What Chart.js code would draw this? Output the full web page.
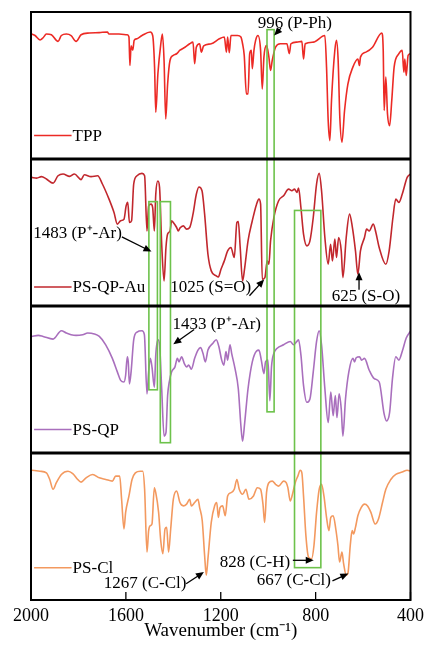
<!DOCTYPE html>
<html>
<head>
<meta charset="utf-8">
<script src="https://cdn.jsdelivr.net/npm/chart.js@4.4.0/dist/chart.umd.min.js"></script>
<style>
html, body { margin: 0; padding: 0; background: #fff; }
</style>
</head>
<body>
<canvas id="ftir" width="431" height="646"></canvas>
<script>
// spectra, values in % of their own panel height
var tppX = [1997,1983,1962,1949,1935,1914,1886,1872,1851,1831,1810,1789,1754,1712,1678,1671,1629,1594,1587,1583,1578,1571,1565,1553,1532,1497,1487,1479,1474,1465,1453,1446,1439,1432,1424,1414,1400,1386,1372,1351,1331,1317,1310,1303,1289,1282,1272,1240,1206,1185,1176,1171,1164,1157,1129,1115,1108,1101,1092,1085,1078,1071,1067,1060,1053,1043,1032,1025,1018,1007,997,990,983,969,949,921,911,904,879,858,851,844,810,761,754,747,740,733,719,712,705,698,689,678,664,643,622,615,611,588,560,521,515,511,504,497,488,479,469,449,435,428,424,418,410,400];
var tppY = [85,84,81,82.5,85,84.5,80,84,85,84,80,84.5,85.7,86,86.4,85,85,84.5,83,63.6,77,74,80.7,81.8,84,86.4,84,62.5,31.8,58,78,85,67,27.3,51,67,70.5,71.6,74,76,78.4,79.5,64.8,76,78.4,72.7,77,78.4,81.8,83,72.7,83,72.3,84,84,83,78.4,70.5,44.3,44.3,71.6,73.9,61.4,73.9,80.7,84,73.9,47.7,69.3,77.3,69.3,60.2,67,76,78.4,78.4,71.6,78.4,79.5,80,68,78.4,79.5,84,62.5,26,12.5,40,74,80.7,67,28.4,11.4,33,51,62.5,68,63.6,69.3,72.7,76,85.7,73.9,33,55.7,30.7,22.7,39.8,62.5,71.6,73.9,59,68,56.8,70.5,71.6];

var auX = [1997,1976,1956,1935,1907,1886,1865,1837,1817,1789,1775,1747,1719,1699,1671,1650,1636,1622,1608,1599,1592,1585,1576,1567,1553,1532,1521,1511,1504,1494,1487,1480,1474,1465,1458,1449,1439,1431,1424,1414,1407,1400,1386,1379,1372,1358,1344,1331,1317,1303,1292,1279,1268,1254,1240,1219,1210,1199,1185,1171,1157,1143,1132,1126,1118,1108,1099,1085,1067,1049,1039,1032,1025,1014,1004,997,990,976,956,935,914,900,889,879,872,862,851,837,824,810,796,785,775,761,747,737,729,719,712,703,692,685,671,657,646,632,622,611,594,585,574,557,546,532,504,490,474,462,449,435,414,400];
var auY = [87.5,87,88,86.4,83.6,88.6,89.8,88.2,89.8,86,89.3,88,88.6,83,72.7,63.6,55.7,58,59,68,70.5,56.8,58,83,88.6,90.2,88.6,51,68,69.3,67,51,76,85,80.7,42,17,39.8,48.9,51,58,56.8,53.4,51,53,54.5,52.3,53.4,62.5,76,81,78.4,62.5,35.2,23.9,20.5,19.8,25,30.7,37.5,39.8,33,56.8,57.5,39.8,17,26,44.3,58,69.3,72.7,69.3,18.2,19.3,30.7,28.4,44.3,60.2,71.6,75,79.5,78.4,79.5,77.3,80.2,67,48.9,40.9,44.3,60.2,83,90.2,78.4,46.6,28.4,42,30.7,45.5,33,46.6,37.5,19.3,46.6,62.5,54.5,37.5,21.6,37.5,46.6,52.3,51,55.7,50,39.8,28.4,37.5,60.2,72.7,70.5,76,87.5,89.8];

var qpX = [1997,1969,1949,1907,1872,1851,1831,1810,1782,1761,1733,1712,1685,1657,1636,1622,1608,1601,1594,1590,1585,1578,1567,1553,1532,1522,1511,1504,1497,1490,1480,1474,1465,1458,1449,1439,1431,1424,1417,1407,1393,1383,1376,1365,1354,1344,1335,1324,1310,1296,1285,1275,1265,1254,1233,1219,1208,1196,1187,1178,1171,1161,1154,1140,1126,1115,1108,1099,1085,1067,1049,1039,1029,1018,1011,1001,993,986,976,962,935,907,893,879,872,862,851,837,824,810,796,785,775,761,747,736,726,717,710,701,692,685,674,660,643,636,629,615,606,594,574,553,532,511,501,488,476,462,449,435,418,400];
var qpY = [79.3,80,79.3,77.5,83.2,81.6,80.5,80,80.5,81.6,81,79.3,73.6,64.4,55.2,49.4,48.3,52.9,65.5,62,47,55.2,77,82.3,83.2,80.5,40.2,55.2,64.4,58.6,44.8,66.7,77,73.6,43.7,11.5,13.8,39,48.3,55.2,58.6,64.4,62,65.5,61,58.6,59.8,57,64.4,70,71.7,67.8,62,70,74.7,77,72.4,63.2,59.8,69,63.2,73.6,67.8,57.5,43.7,18.4,8,20.7,43.7,62,69.4,70,63.2,54,62,63.2,35.6,58.6,67.8,71.3,73.6,75.9,73.6,75.9,77,66.7,46,34.5,36.8,55.2,75.9,83.2,73.6,43.7,20.7,41.4,25.3,39,24.1,40.2,29.9,11.5,36.8,55.2,64.4,62,64.8,65.5,63.2,64.4,56.3,50.6,48.3,26.4,21.8,27.6,50.6,65.5,63.2,69,78.2,82.8];

var clX = [1997,1962,1935,1921,1907,1893,1872,1844,1824,1803,1789,1768,1740,1712,1685,1657,1643,1626,1618,1608,1601,1587,1574,1560,1539,1529,1521,1511,1504,1497,1490,1480,1474,1462,1453,1444,1435,1428,1420,1411,1400,1386,1372,1358,1344,1331,1324,1310,1296,1289,1278,1268,1261,1254,1240,1226,1217,1210,1203,1192,1181,1171,1157,1143,1132,1122,1108,1094,1081,1062,1046,1032,1022,1015,1007,997,983,969,956,935,924,917,907,896,886,875,865,858,851,841,830,817,807,796,785,775,765,754,744,736,726,715,706,699,689,682,671,664,654,646,640,632,622,608,594,581,567,549,535,518,504,483,462,435,414,400];
var clY = [88.3,87.6,86.5,82,75.3,79.8,85.4,87.6,86,82,80.2,83.1,85.4,83.1,82,80.9,84.3,84.3,68.5,48.3,59.6,70.8,82,86.5,87.6,87.6,75.3,32.6,47.2,50.6,51.7,76.4,73,59.6,40.4,31.5,48.3,49.4,32.6,48.3,68.5,74.2,66.3,64,65.2,68.5,64,66.3,68.5,62.9,53.9,30.3,16.9,28.1,52.8,64,66.3,56.2,62.9,64,57.3,70.8,73,75.3,82,75.3,71.9,75.3,68.5,70.8,76.4,75.3,65.2,52.8,73,79.8,80.9,78.7,77.5,80.9,79.8,76.4,67.4,73,79.8,84.3,88.3,86.5,70.8,43.8,29.2,28.1,37.1,59.6,75.3,78.7,70.8,56.2,47.2,56.2,57.3,48.3,37.1,25.8,32.6,24.7,16.9,18,37.1,47.2,44.9,49.4,57.3,62.9,65.2,64,59.6,51.7,55.1,66.3,75.3,82,85.4,87,88.3,87.6];

var sampleNames = ['TPP', 'PS-QP-Au', 'PS-QP', 'PS-Cl'];
var sampleColors = ['#ec2a25', '#c1272d', '#a96fbd', '#f3995f'];
var xTicks = [2000, 1600, 1200, 800, 400];

function stackUp(xs, ys, offset) {
    return xs.map(function(x, i) { return { x: x, y: ys[i] + offset }; });
}

var spectra = [
    stackUp(tppX, tppY, 300),
    stackUp(auX, auY, 200),
    stackUp(qpX, qpY, 100),
    stackUp(clX, clY, 0)
];

// green marker boxes: [wn left, wn right, y top, y bottom]
var boxes = [
    [1005, 975, 388, 128],
    [1503, 1467, 271, 143],
    [1455, 1412, 271, 107],
    [889, 778, 265, 22]
];

// labels with arrows: text, text x, text y, arrow from (x,y) to (x,y)
var notes = [
    ['996 (P-Ph)', 888, 393, 946, 389, 975, 384],
    ['1483 (P\u207A-Ar)', 1804, 250, 1617, 247, 1492, 237],
    ['1025 (S=O)', 1242, 213, 1079, 207, 1017, 218],
    ['625 (S-O)', 588, 207, 617, 211, 617, 223],
    ['1433 (P\u207A-Ar)', 1217, 188, 1312, 184, 1400, 174],
    ['828 (C-H)', 1056, 26, 896, 27, 808, 27],
    ['1267 (C-Cl)', 1519, 12, 1346, 11, 1271, 19],
    ['667 (C-Cl)', 892, 14, 729, 13, 662, 18]
];

// legend rows inside each panel
var legendY = [316, 213, 116, 22];

var serif = '"Liberation Serif", "Times New Roman", serif';

function arrow(ctx, x1, y1, x2, y2) {
    var ang = Math.atan2(y2 - y1, x2 - x1);
    var len = 8, half = 3.5;
    ctx.beginPath();
    ctx.moveTo(x1, y1);
    ctx.lineTo(x2 - Math.cos(ang) * len * 0.6, y2 - Math.sin(ang) * len * 0.6);
    ctx.strokeStyle = '#000';
    ctx.lineWidth = 1.3;
    ctx.stroke();
    ctx.beginPath();
    ctx.moveTo(x2, y2);
    ctx.lineTo(x2 - Math.cos(ang) * len + Math.sin(ang) * half, y2 - Math.sin(ang) * len - Math.cos(ang) * half);
    ctx.lineTo(x2 - Math.cos(ang) * len - Math.sin(ang) * half, y2 - Math.sin(ang) * len + Math.cos(ang) * half);
    ctx.closePath();
    ctx.fillStyle = '#000';
    ctx.fill();
}

var decor = {
    id: 'decor',
    afterDatasetsDraw: function(chart) {
        var ctx = chart.ctx;
        var xs = chart.scales.x, ys = chart.scales.y, area = chart.chartArea;
        ctx.save();

        // green boxes
        ctx.strokeStyle = '#6dc24b';
        ctx.lineWidth = 1.6;
        boxes.forEach(function(b) {
            var l = xs.getPixelForValue(b[0]), r = xs.getPixelForValue(b[1]);
            var t = ys.getPixelForValue(b[2]), btm = ys.getPixelForValue(b[3]);
            ctx.strokeRect(l, t, r - l, btm - t);
        });

        // panel separators
        ctx.strokeStyle = '#000';
        ctx.lineWidth = 3;
        [100, 200, 300].forEach(function(v) {
            var y = ys.getPixelForValue(v);
            ctx.beginPath();
            ctx.moveTo(area.left, y);
            ctx.lineTo(area.right, y);
            ctx.stroke();
        });

        // frame
        ctx.lineWidth = 2;
        ctx.strokeRect(area.left, area.top, area.right - area.left, area.bottom - area.top);

        // inward ticks on the bottom axis
        ctx.lineWidth = 1.3;
        xTicks.forEach(function(v) {
            var x = xs.getPixelForValue(v);
            ctx.beginPath();
            ctx.moveTo(x, area.bottom);
            ctx.lineTo(x, area.bottom - 8);
            ctx.stroke();
        });

        // legends
        ctx.font = '17px ' + serif;
        ctx.textBaseline = 'middle';
        ctx.textAlign = 'left';
        sampleNames.forEach(function(name, i) {
            var y = ys.getPixelForValue(legendY[i]);
            var x0 = xs.getPixelForValue(1987), x1 = xs.getPixelForValue(1829);
            ctx.beginPath();
            ctx.moveTo(x0, y);
            ctx.lineTo(x1, y);
            ctx.strokeStyle = sampleColors[i];
            ctx.lineWidth = 1.5;
            ctx.stroke();
            ctx.fillStyle = '#000';
            ctx.fillText(name, x1 + 1, y + 1);
        });

        // annotations
        ctx.textAlign = 'center';
        notes.forEach(function(n) {
            ctx.fillStyle = '#000';
            ctx.fillText(n[0], xs.getPixelForValue(n[1]), ys.getPixelForValue(n[2]) + 1);
            arrow(ctx, xs.getPixelForValue(n[3]), ys.getPixelForValue(n[4]),
                xs.getPixelForValue(n[5]), ys.getPixelForValue(n[6]));
        });

        ctx.restore();
    }
};

new Chart(document.getElementById('ftir'), {
    type: 'line',
    data: {
        datasets: spectra.map(function(pts, i) {
            return {
                label: sampleNames[i],
                data: pts,
                borderColor: sampleColors[i],
                borderWidth: 1.6,
                pointRadius: 0,
                fill: false,
                cubicInterpolationMode: 'monotone'
            };
        })
    },
    options: {
        responsive: false,
        animation: false,
        layout: { padding: { left: 31, right: 16, top: 12, bottom: 0 } },
        plugins: { legend: { display: false }, tooltip: { enabled: false } },
        scales: {
            x: {
                type: 'linear',
                reverse: true,
                min: 400,
                max: 2000,
                afterBuildTicks: function(scale) {
                    scale.ticks = xTicks.map(function(v) { return { value: v }; });
                },
                afterFit: function(scale) {
                    scale.height = 46;
                },
                grid: { display: false, drawTicks: false },
                border: { display: false },
                ticks: {
                    padding: 7,
                    color: '#000',
                    maxRotation: 0,
                    font: { family: serif, size: 18, lineHeight: 1 },
                    callback: function(v) { return String(v); }
                },
                title: {
                    display: true,
                    text: 'Wavenumber (cm\u207B\u00B9)',
                    color: '#000',
                    padding: { top: 0, bottom: 5 },
                    font: { family: serif, size: 19, lineHeight: 1 }
                }
            },
            y: {
                display: false,
                min: 0,
                max: 400
            }
        }
    },
    plugins: [decor]
});
</script>
</body>
</html>
